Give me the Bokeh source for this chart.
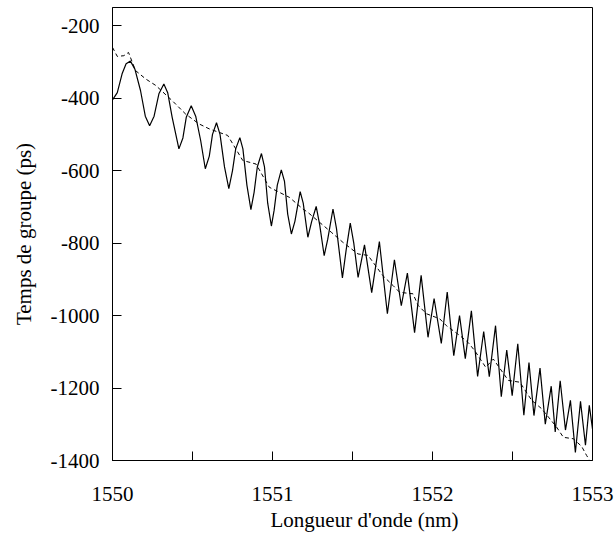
from bokeh.plotting import figure
from bokeh.models import FixedTicker, Title, Range1d
from bokeh.embed import file_html
from bokeh.resources import INLINE

# ---- data ----
measured_nm = [
    1550.000, 1550.030, 1550.060, 1550.085, 1550.112, 1550.140, 1550.175, 1550.205,
    1550.232, 1550.260, 1550.290, 1550.321, 1550.345, 1550.373, 1550.415, 1550.440,
    1550.461, 1550.492, 1550.520, 1550.551, 1550.580, 1550.605, 1550.625, 1550.650,
    1550.672, 1550.700, 1550.727, 1550.750, 1550.770, 1550.796, 1550.815, 1550.840,
    1550.865, 1550.885, 1550.905, 1550.931, 1550.950, 1550.970, 1550.993, 1551.010,
    1551.030, 1551.055, 1551.075, 1551.095, 1551.118, 1551.140, 1551.173, 1551.192,
    1551.221, 1551.245, 1551.273, 1551.295, 1551.323, 1551.345, 1551.378, 1551.400,
    1551.437, 1551.460, 1551.486, 1551.508, 1551.535, 1551.575, 1551.620, 1551.668,
    1551.718, 1551.762, 1551.805, 1551.843, 1551.888, 1551.929, 1551.972, 1552.010,
    1552.055, 1552.092, 1552.133, 1552.169, 1552.205, 1552.243, 1552.282, 1552.320,
    1552.355, 1552.394, 1552.430, 1552.464, 1552.498, 1552.533, 1552.571, 1552.603,
    1552.634, 1552.672, 1552.705, 1552.742, 1552.767, 1552.798, 1552.831, 1552.862,
    1552.893, 1552.925, 1552.956, 1552.980, 1553.000,
]
measured_ps = [
    -405, -385, -333, -305, -298, -320, -379, -450,
    -476, -450, -388, -361, -385, -453, -540, -510,
    -453, -421, -450, -517, -595, -560, -500, -468,
    -500, -590, -650, -600, -540, -509, -540, -640,
    -708, -660, -590, -553, -590, -690, -753, -710,
    -640, -598, -630, -720, -775, -740, -658, -690,
    -784, -740, -699, -750, -835, -790, -706, -760,
    -896, -820, -745, -800, -895, -805, -937, -796,
    -995, -846, -973, -883, -1047, -889, -1060, -953,
    -1077, -935, -1111, -1000, -1119, -987, -1168, -1044,
    -1169, -1028, -1224, -1095, -1221, -1078, -1275, -1130,
    -1276, -1145, -1300, -1195, -1321, -1180, -1316, -1234,
    -1378, -1237, -1358, -1248, -1313,
]

model_nm = [
    1550.000, 1550.030, 1550.071, 1550.100, 1550.144, 1550.207, 1550.270, 1550.373,
    1550.457, 1550.540, 1550.605, 1550.720, 1550.814, 1550.897, 1550.980, 1551.106,
    1551.190, 1551.220, 1551.367, 1551.440, 1551.534, 1551.597, 1551.690, 1551.753,
    1551.795, 1551.878, 1551.910, 1551.962, 1552.045, 1552.087, 1552.170, 1552.222,
    1552.264, 1552.333, 1552.380, 1552.474, 1552.546, 1552.620, 1552.682, 1552.776,
    1552.818, 1552.880, 1552.932, 1552.963, 1552.980,
]
model_ps = [
    -260, -285, -283, -274, -324, -347, -365, -407,
    -444, -471, -485, -503, -572, -582, -646, -674,
    -706, -715, -770, -798, -830, -834, -890, -917,
    -936, -940, -972, -995, -1009, -1028, -1055, -1074,
    -1097, -1143, -1120, -1179, -1184, -1234, -1257, -1308,
    -1336, -1340, -1361, -1386, -1398,
]

x_ticks = [1550, 1551, 1552, 1553]
x_minor_ticks = [1550.5, 1551.5, 1552.5]
y_ticks = [-1400, -1200, -1000, -800, -600, -400, -200]
y_tick_labels = ["-1400", "-1200", "-1000", "-800", "-600", "-400", "-200"]
x_title = "Longueur d'onde (nm)"
y_title = "Temps de groupe (ps)"

FONT = "Liberation Serif"
FS = "21px"

p = figure(width=614, height=538, output_backend="svg", toolbar_location=None,
           x_range=Range1d(1550, 1553), y_range=Range1d(-1400, -150),
           min_border_left=112, min_border_right=22, min_border_top=7,
           min_border_bottom=78)
p.xgrid.visible = False
p.ygrid.visible = False
p.outline_line_color = "black"
p.outline_line_width = 1
p.background_fill_color = "white"
p.border_fill_color = "white"

p.line(measured_nm, measured_ps, line_color="black", line_width=1.2)
p.line(model_nm, model_ps, line_color="black", line_width=1.0, line_dash="4 3")

xa = p.xaxis[0]
xa.ticker = FixedTicker(ticks=x_ticks, minor_ticks=x_minor_ticks)
xa.major_tick_in = 9
xa.major_tick_out = 0
xa.minor_tick_in = 9
xa.minor_tick_out = 0
xa.major_label_standoff = 26
xa.major_label_text_font = FONT
xa.major_label_text_font_size = FS
xa.major_label_text_color = "black"
xa.axis_line_color = "black"
xa.major_tick_line_color = "black"
xa.minor_tick_line_color = "black"

ya = p.yaxis[0]
ya.ticker = FixedTicker(ticks=y_ticks, minor_ticks=[])
ya.major_label_overrides = {t: s for t, s in zip(y_ticks, y_tick_labels)}
ya.major_tick_in = 9
ya.major_tick_out = 0
ya.minor_tick_in = 0
ya.minor_tick_out = 0
ya.major_label_standoff = 13
ya.major_label_text_font = FONT
ya.major_label_text_font_size = FS
ya.major_label_text_color = "black"
ya.axis_line_color = "black"
ya.major_tick_line_color = "black"
ya.axis_label = y_title
ya.axis_label_standoff = 12
ya.axis_label_text_font = FONT
ya.axis_label_text_font_size = FS
ya.axis_label_text_font_style = "normal"
ya.axis_label_text_color = "black"

tx = Title(text=x_title, align="left", offset=158, standoff=5, text_font=FONT,
           text_font_size=FS, text_font_style="normal", text_color="black")
p.add_layout(tx, "below")

open("out.html", "w").write(file_html(p, INLINE))
